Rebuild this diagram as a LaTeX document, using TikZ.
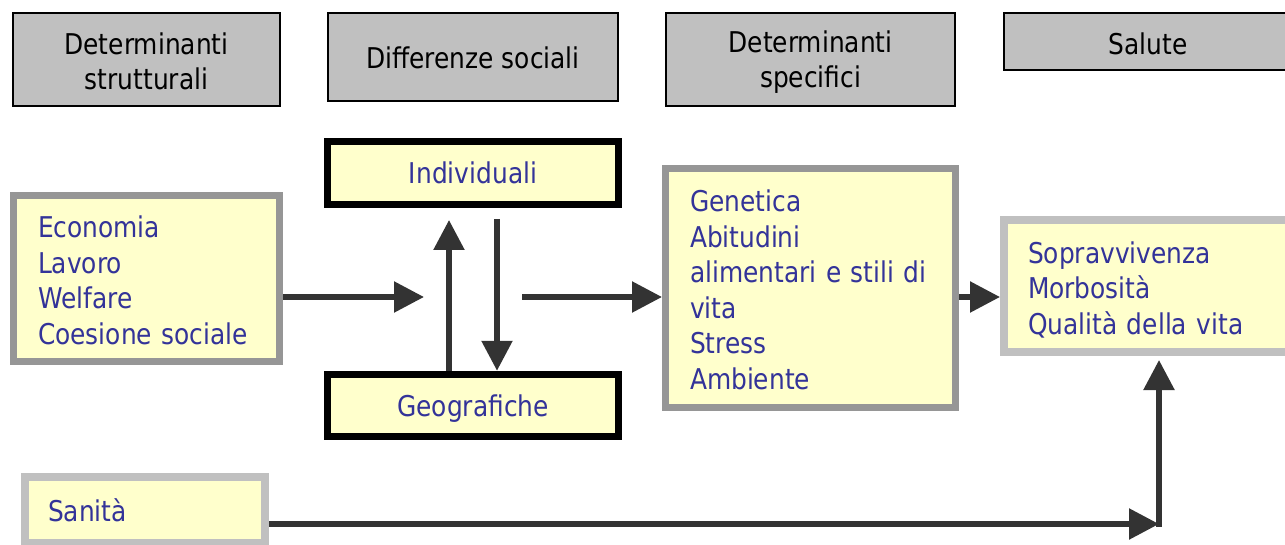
\documentclass[tikz,border=0pt]{standalone}
\usepackage{fontspec}
\setmainfont{DejaVu Sans}[FakeStretch=0.87]
\usetikzlibrary{arrows.meta}
\definecolor{hdrgray}{HTML}{C0C0C0}
\definecolor{boxyellow}{HTML}{FFFFCC}
\definecolor{txtblue}{HTML}{333399}
\definecolor{darkborder}{HTML}{969696}
\definecolor{lightborder}{HTML}{C0C0C0}
\definecolor{arrowgray}{HTML}{333333}
\newcommand\topstrut[1]{\rule{0pt}{#1}}
\begin{document}
\begin{tikzpicture}[x=1pt,y=-1pt,
  hdr/.style={draw=black, line width=1.5pt, fill=hdrgray, align=center,
    font=\fontsize{28.6}{35}\selectfont, inner sep=0pt},
  ylw/.style={fill=boxyellow, text=txtblue, font=\fontsize{28.6}{35.5}\selectfont},
  diffbox/.style={ylw, draw=black, line width=7.5pt, inner sep=0pt, text height=28pt, text depth=6pt},
  listbox/.style={ylw, align=left, inner xsep=24.5pt, inner ysep=0pt},
  arr/.style={draw=arrowgray, line width=5.5pt, -{Triangle[length=30pt,width=30pt]}},
]
\useasboundingbox (0,0) rectangle (1285,545);

% header boxes
\node[hdr, minimum width=267pt, minimum height=93pt] (h1) at (146.5,59.5) {\topstrut{26pt}Determinanti\\strutturali};
\node[hdr, minimum width=290pt, minimum height=88pt] (h2) at (473,57) {\topstrut{24pt}Differenze sociali};
\node[hdr, minimum width=289pt, minimum height=93pt] (h3) at (810.5,59.5) {\topstrut{26pt}Determinanti\\specifici};
\node[hdr, minimum width=288pt, minimum height=57pt] (h4) at (1148,41.5) {\topstrut{26pt}Salute};

% social differences
\node[diffbox, minimum width=291pt, minimum height=63pt] (ind) at (473,173) {Individuali};
\node[diffbox, minimum width=291pt, minimum height=62pt] (geo) at (473,405.5) {Geografiche};

% list boxes
\node[listbox, draw=darkborder, line width=7pt, text width=217pt, minimum height=166pt]
  (econ) at (146.5,278.5) {\topstrut{25.5pt}Economia\\Lavoro\\Welfare\\Coesione sociale};
\node[listbox, draw=darkborder, line width=7pt, text width=241pt, minimum height=239pt]
  (gen) at (810.5,288) {\topstrut{25.5pt}Genetica\\Abitudini\\alimentari e stili di\\vita\\Stress\\Ambiente};
\node[listbox, draw=lightborder, line width=8pt, inner xsep=24pt, text width=242pt, minimum height=132pt]
  (sop) at (1149,286) {\topstrut{29.5pt}Sopravvivenza\\Morbosità\\Qualità della vita};
\node[listbox, draw=lightborder, line width=8pt, inner xsep=23pt, text width=194pt, minimum height=66pt]
  (san) at (145,510) {Sanità};

% connectors
\coordinate (a1) at (424,297);
\coordinate (upT) at (449,220);
\coordinate (dnS) at (497,219);
\coordinate (a2) at (522,297);
\coordinate (a3) at (959,297);
\coordinate (corner) at (1159,524);

\draw[arr] (econ.east |- a1) -- (a1);
\draw[arr] (upT |- geo.north) -- (upT);
\draw[arr] (dnS) -- (dnS |- geo.north);
\draw[arr] (a2) -- (a2 -| gen.west);
\draw[arr] (gen.east |- a3) -- (a3 -| sop.west);
\draw[arr] (san.east |- corner) -- (corner);
\draw[arr, shorten >=4pt] ([yshift=-2.75pt]corner) -- (corner |- sop.south);
\end{tikzpicture}
\end{document}
